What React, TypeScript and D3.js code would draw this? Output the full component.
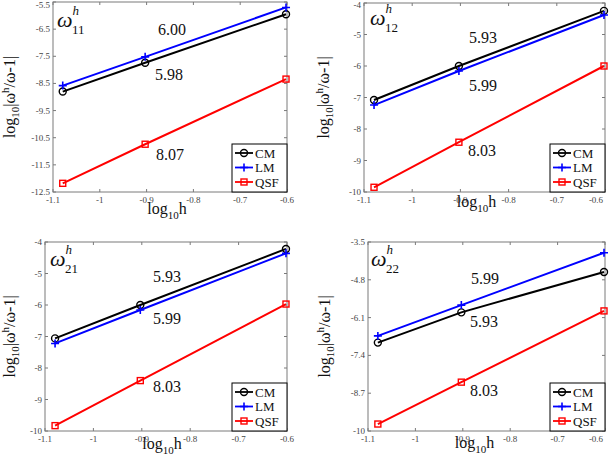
import React from 'react';
import * as d3 from 'd3';

// ---- data ----
const hLog = [-1.0792, -0.9031, -0.6021];
const xTicks = [-1.1, -1, -0.9, -0.8, -0.7, -0.6];

const cm11 = [-8.8, -7.74, -5.95];
const lm11 = [-8.58, -7.52, -5.7];
const qsf11 = [-12.18, -10.74, -8.34];
const yTicks11 = [-5.5, -6.5, -7.5, -8.5, -9.5, -10.5, -11.5, -12.5];
const rates11 = ['6.00', '5.98', '8.07'];

const cm12 = [-7.08, -6.0, -4.25];
const lm12 = [-7.24, -6.16, -4.38];
const qsf12 = [-9.85, -8.42, -6.0];
const yTicks12 = [-4, -5, -6, -7, -8, -9, -10];
const rates12 = ['5.93', '5.99', '8.03'];

const cm21 = [-7.06, -6.0, -4.22];
const lm21 = [-7.22, -6.16, -4.36];
const qsf21 = [-9.83, -8.4, -5.97];
const yTicks21 = [-4, -5, -6, -7, -8, -9, -10];
const rates21 = ['5.93', '5.99', '8.03'];

const cm22 = [-6.96, -5.92, -4.53];
const lm22 = [-6.73, -5.67, -3.87];
const qsf22 = [-9.76, -8.32, -5.87];
const yTicks22 = [-3.5, -4.8, -6.1, -7.4, -8.7, -10];
const rates22 = ['5.99', '5.93', '8.03'];

const seriesNames = ['CM', 'LM', 'QSF'];
const seriesColors = ['#000000', '#0000ff', '#ff0000'];

const FONT = '"Liberation Serif", "DejaVu Serif", serif';

function Marker({ kind, x, y, color }: { kind: number; x: number; y: number; color: string }) {
  if (kind === 0) return <circle cx={x} cy={y} r={3.5} fill="none" stroke={color} strokeWidth={1.4} />;
  if (kind === 1)
    return (
      <path d={`M${x - 4},${y}H${x + 4}M${x},${y - 4}V${y + 4}`} stroke={color} strokeWidth={1.6} fill="none" />
    );
  return <rect x={x - 3} y={y - 3} width={6} height={6} fill="none" stroke={color} strokeWidth={1.4} />;
}

type PanelProps = {
  L: number; R: number; T: number; B: number;
  yDomain: [number, number];
  yTicks: number[];
  series: number[][];
  rates: string[];
  ratePos: [number, number][];
  sub: string;
  ylabDx: number;
  xlabDy: number;
  xlabDx: number;
  omegaDx: number;
  omegaDy: number;
};

function Panel(p: PanelProps) {
  const x = d3.scaleLinear().domain([-1.1, -0.6]).range([p.L, p.R]);
  const y = d3.scaleLinear().domain(p.yDomain).range([p.B, p.T]);
  const line = d3
    .line<number>()
    .x((_, i) => x(hLog[i]))
    .y((d) => y(d));
  const tickCol = '#444';
  const axisCol = '#7a7a7a';
  const lgW = 55;
  const lgH = 48;
  const lgX = p.R - lgW;
  const lgY = p.B - lgH;
  const cy = (p.T + p.B) / 2;
  const ylx = p.L - p.ylabDx;
  return (
    <g>
      {/* axes box */}
      <rect x={p.L} y={p.T} width={p.R - p.L} height={p.B - p.T} fill="white" stroke={axisCol} strokeWidth={1} />
      {xTicks.map((t) => (
        <g key={'xt' + t}>
          <line x1={x(t)} x2={x(t)} y1={p.B} y2={p.B - 3} stroke={axisCol} />
          <line x1={x(t)} x2={x(t)} y1={p.T} y2={p.T + 3} stroke={axisCol} />
          <text
            x={Math.min(x(t), 596)}
            y={p.B + 11}
            fontSize={9}
            textAnchor="middle"
            fill={tickCol}
            fontFamily={FONT}
          >
            {String(t)}
          </text>
        </g>
      ))}
      {p.yTicks.map((t) => (
        <g key={'yt' + t}>
          <line x1={p.L} x2={p.L + 3} y1={y(t)} y2={y(t)} stroke={axisCol} />
          <line x1={p.R} x2={p.R - 3} y1={y(t)} y2={y(t)} stroke={axisCol} />
          <text x={p.L - 3} y={Math.max(y(t) + 3, 8)} fontSize={9} textAnchor="end" fill={tickCol} fontFamily={FONT}>
            {String(t)}
          </text>
        </g>
      ))}
      {/* series */}
      {p.series.map((s, k) => (
        <g key={'s' + k}>
          <path d={line(s) || ''} fill="none" stroke={seriesColors[k]} strokeWidth={2} />
          {s.map((v, i) => (
            <Marker key={i} kind={k} x={x(hLog[i])} y={y(v)} color={seriesColors[k]} />
          ))}
        </g>
      ))}
      {/* rate annotations */}
      {p.rates.map((r, i) => (
        <text
          key={'r' + i}
          x={p.L + p.ratePos[i][0]}
          y={p.T + p.ratePos[i][1] + 5.5}
          fontSize={16}
          textAnchor="middle"
          fontFamily={FONT}
          fill="#111"
        >
          {r}
        </text>
      ))}
      {/* omega label */}
      <text x={p.L + p.omegaDx} y={p.T + p.omegaDy} fontFamily={FONT} fill="#111">
        <tspan fontSize={22} fontStyle="italic">ω</tspan>
        <tspan fontSize={13} fontStyle="italic" dy={-12}>h</tspan>
        <tspan fontSize={13} dx={-7} dy={19}>{p.sub}</tspan>
      </text>
      {/* x label */}
      <text
        x={(p.L + p.R) / 2 + p.xlabDx}
        y={p.B + p.xlabDy}
        fontSize={16}
        textAnchor="middle"
        fontFamily={FONT}
        fill="#111"
      >
        log<tspan fontSize={11} dy={5}>10</tspan>
        <tspan dy={-5}>h</tspan>
      </text>
      {/* y label */}
      <text
        transform={`translate(${ylx},${cy}) rotate(-90)`}
        fontSize={16}
        textAnchor="middle"
        fontFamily={FONT}
        fill="#111"
      >
        log<tspan fontSize={11} dy={4}>10</tspan>
        <tspan dy={-4}>|ω</tspan>
        <tspan fontSize={11} dy={-6}>h</tspan>
        <tspan dy={6}>/ω-1|</tspan>
      </text>
      {/* legend */}
      <rect x={lgX} y={lgY} width={lgW} height={lgH} fill="white" stroke="#000" strokeWidth={1} />
      {seriesNames.map((n, k) => {
        const ry = lgY + 9 + k * 14.5;
        return (
          <g key={'lg' + n}>
            <line x1={lgX + 3} x2={lgX + 21} y1={ry} y2={ry} stroke={seriesColors[k]} strokeWidth={1.8} />
            <Marker kind={k} x={lgX + 12} y={ry} color={seriesColors[k]} />
            <text x={lgX + 23} y={ry + 4.5} fontSize={13} fontFamily={FONT} fill="#111">
              {n}
            </text>
          </g>
        );
      })}
    </g>
  );
}

export default function App() {
  return (
    <svg
      width={610}
      height={461}
      style={{ position: 'absolute', left: 0, top: 0, background: 'white' }}
      xmlns="http://www.w3.org/2000/svg"
    >
      <rect width={610} height={461} fill="white" />
      <Panel
        L={53} R={287} T={2} B={192}
        yDomain={[-12.5, -5.5]}
        yTicks={yTicks11}
        series={[cm11, lm11, qsf11]}
        rates={rates11}
        ratePos={[[119, 27], [116, 72], [117, 152]]}
        sub="11"
        ylabDx={38}
        xlabDy={22}
        xlabDx={-3}
        omegaDx={4}
        omegaDy={25}
      />
      <Panel
        L={364} R={605} T={3} B={192}
        yDomain={[-10, -4]}
        yTicks={yTicks12}
        series={[cm12, lm12, qsf12]}
        rates={rates12}
        ratePos={[[119, 34], [119, 82], [118, 147]]}
        sub="12"
        ylabDx={35}
        xlabDy={15}
        xlabDx={-8}
        omegaDx={6}
        omegaDy={22}
      />
      <Panel
        L={45} R={287} T={242} B={431}
        yDomain={[-10, -4]}
        yTicks={yTicks21}
        series={[cm21, lm21, qsf21]}
        rates={rates21}
        ratePos={[[122, 34], [122, 76], [122, 144]]}
        sub="21"
        ylabDx={30}
        xlabDy={18}
        xlabDx={-4}
        omegaDx={5}
        omegaDy={24}
      />
      <Panel
        L={368} R={605} T={242} B={431}
        yDomain={[-10, -3.5]}
        yTicks={yTicks22}
        series={[cm22, lm22, qsf22]}
        rates={rates22}
        ratePos={[[117, 36], [116, 79], [116, 148]]}
        sub="22"
        ylabDx={38}
        xlabDy={17}
        xlabDx={-12}
        omegaDx={3}
        omegaDy={24}
      />
    </svg>
  );
}
